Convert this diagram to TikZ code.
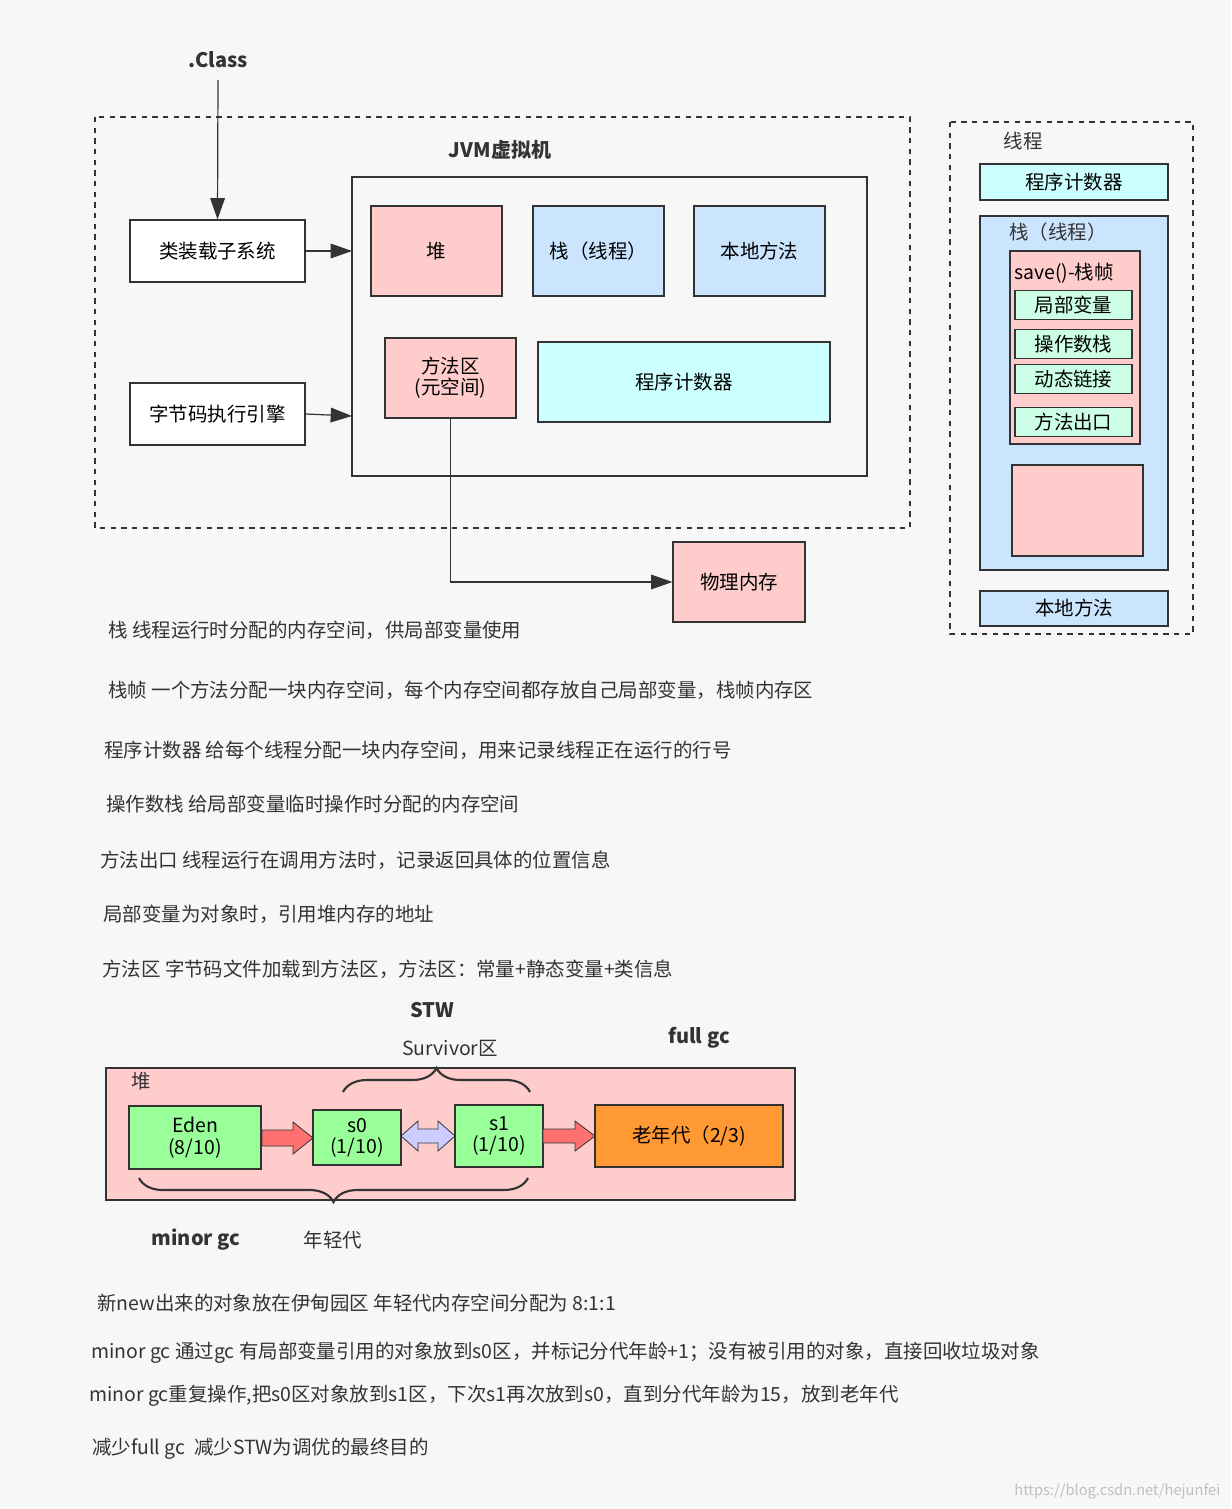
\documentclass[tikz,border=0pt]{standalone}
\usepackage{fontspec}
\setmainfont{Noto Sans CJK SC}
\usetikzlibrary{arrows.meta,decorations.pathreplacing}
\definecolor{pk}{HTML}{FFCCCC}
\definecolor{bl}{HTML}{CCE5FF}
\definecolor{cy}{HTML}{CCFFFF}
\definecolor{gn}{HTML}{CCFFE6}
\definecolor{eg}{HTML}{99FF99}
\definecolor{og}{HTML}{FF9933}
\definecolor{ln}{HTML}{333333}
\begin{document}
\begin{tikzpicture}[x=0.75pt,y=-0.75pt,
  font=\fontsize{14.6}{16}\selectfont,
  bx/.style={draw=ln,line width=0.9pt,align=center,inner sep=0},
  arr/.style={draw=ln,line width=0.9pt,-{Triangle[length=16pt,width=11pt]}},
  dsh/.style={draw=ln,line width=0.9pt,dash pattern=on 4pt off 4pt},
  txt/.style={anchor=west,inner sep=0,text=ln},
  bld/.style={font=\fontsize{15}{17}\selectfont\bfseries,text=ln},
  fat/.style={draw=ln,line width=0.6pt}]
\fill[white!97!black] (0,0) rectangle (1231,1509);
\node[bld] (cls) at (218,60) {.Class};
\draw[dsh] (95,117) rectangle (910,528);
\node[bld] (jvm) at (500,150) {JVM虚拟机};
\draw[ln,line width=0.9pt] (352,177) rectangle (867,476);
\coordinate (inL1) at (352,251);
\coordinate (inL2) at (352,416);
\node[bx,fill=white,minimum width=175*0.75pt,minimum height=62*0.75pt] (cl) at (217.5,251) {类装载子系统};
\node[bx,fill=white,minimum width=175*0.75pt,minimum height=62*0.75pt] (ex) at (217.5,414) {字节码执行引擎};
\draw[arr] (218,80) -- (cl.north);
\draw[arr] (cl.east) -- (inL1);
\draw[arr] (ex.east) -- (inL2);
\node[bx,fill=pk,minimum width=131*0.75pt,minimum height=90*0.75pt] (heap) at (436.5,251) {堆};
\node[bx,fill=bl,minimum width=131*0.75pt,minimum height=90*0.75pt] (stk) at (598.5,251) {栈（线程）};
\node[bx,fill=bl,minimum width=131*0.75pt,minimum height=90*0.75pt] (nat) at (759.5,251) {本地方法};
\node[bx,fill=pk,minimum width=131*0.75pt,minimum height=80*0.75pt] (ma) at (450.5,378) {方法区\\(元空间)};
\node[bx,fill=cy,minimum width=292*0.75pt,minimum height=80*0.75pt] (pc) at (684,382) {程序计数器};
\node[bx,fill=pk,minimum width=132*0.75pt,minimum height=80*0.75pt] (pm) at (739,582) {物理内存};
\draw[arr] (ma.south) |- (pm.west);
% right panel
\draw[dsh] (950,122) rectangle (1193,634);
\node[text=ln] (thr) at (1023,141) {线程};
\node[bx,fill=cy,minimum width=188*0.75pt,minimum height=36*0.75pt] (pc2) at (1074,182) {程序计数器};
\draw[ln,line width=0.9pt,fill=bl] (980,216) rectangle (1168,570);
\node[text=ln] (stk2) at (1058,232) {栈（线程）};
\draw[ln,line width=0.9pt,fill=pk] (1010,251) rectangle (1140,444);
\node[text=black] (sv) at (1064,273) {save()-栈帧};
\node[bx,fill=gn,minimum width=117*0.75pt,minimum height=29*0.75pt] (lv) at (1073.5,305) {局部变量};
\node[bx,fill=gn,minimum width=117*0.75pt,minimum height=29*0.75pt] (os) at (1073.5,344) {操作数栈};
\node[bx,fill=gn,minimum width=117*0.75pt,minimum height=29*0.75pt] (dl) at (1073.5,379) {动态链接};
\node[bx,fill=gn,minimum width=117*0.75pt,minimum height=29*0.75pt] (mo) at (1073.5,422) {方法出口};
\node[bx,fill=pk,minimum width=131*0.75pt,minimum height=91*0.75pt] (emp) at (1077.5,510.5) {};
\node[bx,fill=bl,minimum width=188*0.75pt,minimum height=35*0.75pt] (nat2) at (1074,608.5) {本地方法};
% text lines
\node[txt] (t1) at (108,630) {栈 线程运行时分配的内存空间，供局部变量使用};
\node[txt] (t2) at (108,690) {栈帧 一个方法分配一块内存空间，每个内存空间都存放自己局部变量，栈帧内存区};
\node[txt] (t3) at (104,750) {程序计数器 给每个线程分配一块内存空间，用来记录线程正在运行的行号};
\node[txt] (t4) at (106,804) {操作数栈 给局部变量临时操作时分配的内存空间};
\node[txt] (t5) at (100,860) {方法出口 线程运行在调用方法时，记录返回具体的位置信息};
\node[txt] (t6) at (103,914) {局部变量为对象时，引用堆内存的地址};
\node[txt] (t7) at (102,969) {方法区 字节码文件加载到方法区，方法区：常量+静态变量+类信息};
% heap diagram
\node[bld] (stw) at (432,1010) {STW};
\node[text=ln] (sur) at (450,1048) {Survivor区};
\node[bld] (fgc) at (699,1038) {full gc};
\draw[ln,line width=0.9pt,fill=pk] (106,1068) rectangle (795,1200);
\node[text=ln] (hl) at (141,1081) {堆};
\node[bx,fill=eg,minimum width=132*0.75pt,minimum height=63*0.75pt] (eden) at (195,1137.5) {Eden\\(8/10)};
\node[bx,fill=eg,minimum width=88*0.75pt,minimum height=55*0.75pt] (s0) at (357,1137.5) {s0\\(1/10)};
\node[bx,fill=eg,minimum width=88*0.75pt,minimum height=62*0.75pt] (s1) at (499,1136) {s1\\(1/10)};
\node[bx,fill=og,minimum width=188*0.75pt,minimum height=62*0.75pt] (old) at (689,1136) {老年代（2/3)};
\fill[fat,fill=red!45!pk] (262,1130) -- (293,1130) -- (293,1122) -- (313,1138) -- (293,1154) -- (293,1146) -- (262,1146) -- cycle;
\fill[fat,fill=blue!20] (401,1136) -- (418,1121) -- (418,1129) -- (438,1129) -- (438,1121) -- (455,1136) -- (438,1151) -- (438,1143) -- (418,1143) -- (418,1151) -- cycle;
\fill[fat,fill=red!45!pk] (543,1129) -- (575,1129) -- (575,1121) -- (595,1136) -- (575,1151) -- (575,1143) -- (543,1143) -- cycle;
\draw[ln,line width=1.6pt,decorate,decoration={brace,amplitude=18pt}] (343,1092) -- (530,1092);
\draw[ln,line width=1.6pt,decorate,decoration={brace,amplitude=18pt,mirror}] (139,1178) -- (528,1178);
\node[bld] (mgc) at (196,1240) {minor gc};
\node[text=ln] (yg) at (333,1240) {年轻代};
\node[txt] (b1) at (97,1303) {新new出来的对象放在伊甸园区 年轻代内存空间分配为 8:1:1};
\node[txt] (b2) at (91,1353) {minor gc 通过gc 有局部变量引用的对象放到s0区，并标记分代年龄+1；没有被引用的对象，直接回收垃圾对象};
\node[txt] (b3) at (89,1396) {minor gc重复操作,把s0区对象放到s1区，下次s1再次放到s0，直到分代年龄为15，放到老年代};
\node[txt] (b4) at (92,1449) {减少full gc\ \ 减少STW为调优的最终目的};
\node[anchor=east,text=black!25,font=\fontsize{11}{13}\selectfont] (wm) at (1225,1491) {https://blog.csdn.net/hejunfei};
\end{tikzpicture}
\end{document}
